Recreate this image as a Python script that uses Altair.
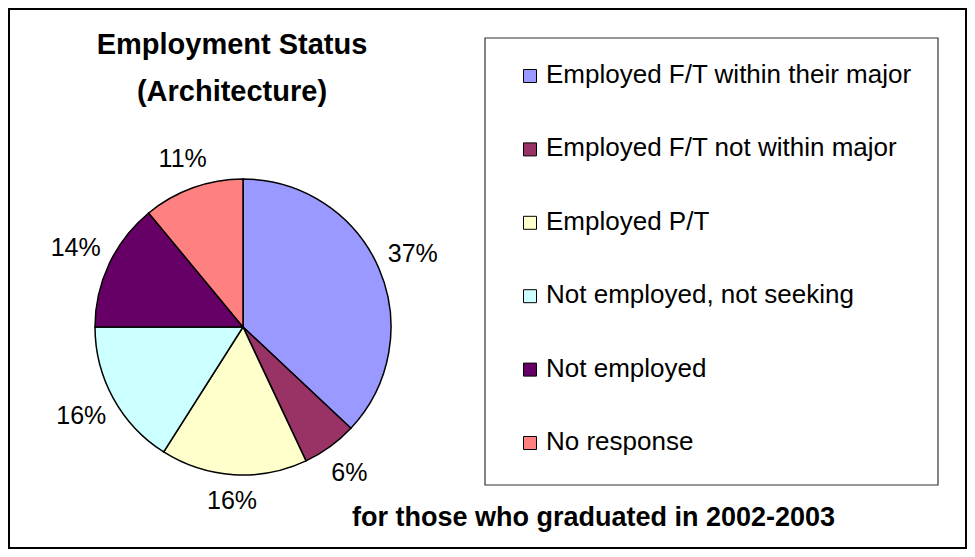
import altair as alt
import pandas as pd

# ---- data -------------------------------------------------------------
categories = [
    "Employed F/T within their major",
    "Employed F/T not within major",
    "Employed P/T",
    "Not employed, not seeking",
    "Not employed",
    "No response",
]
shares = [37, 6, 16, 16, 14, 11]
pct_labels = ["37%", "6%", "16%", "16%", "14%", "11%"]
colors = ["#9999FF", "#993366", "#FFFFCC", "#CCFFFF", "#660066", "#FF8080"]

title_lines = ["Employment Status", "(Architecture)"]
footnote = "for those who graduated in 2002-2003"

FONT = "Liberation Sans"

df = pd.DataFrame({
    "category": categories,
    "share": shares,
    "label": pct_labels,
    "idx": list(range(len(categories))),
})

# ---- layout -----------------------------------------------------------
W, H = 959, 541
CX, CY, R = 235, 319, 148

color = alt.Color("category:N", scale=alt.Scale(domain=categories, range=colors), legend=None)
theta_scale = alt.Scale(domain=[0, 100], range=[0, 6.283185307179586])
base = alt.Chart(df)

pie = base.mark_arc(outerRadius=R, stroke="black", strokeWidth=1.5).encode(
    theta=alt.Theta("share:Q", stack=True, scale=theta_scale),
    order=alt.Order("idx:Q"),
    color=color,
    x=alt.value(CX),
    y=alt.value(CY),
)

labels = base.transform_joinaggregate(
    total="sum(share)"
).transform_window(
    cum="sum(share)", sort=[alt.SortField("idx")], frame=[None, 0]
).transform_calculate(
    midv="datum.cum - datum.share / 2",
    mid="(datum.cum - datum.share / 2) / datum.total * 2 * PI",
    r="174 + 12 * abs(sin(datum.mid))",
).mark_text(font=FONT, fontSize=25, color="black").encode(
    theta=alt.Theta("midv:Q", stack=None, scale=theta_scale),
    radius=alt.Radius("r:Q", scale=None),
    text="label:N",
    x=alt.value(CX),
    y=alt.value(CY),
)

# legend box
box = alt.Chart(pd.DataFrame({"k": [0]})).mark_rect(
    fill="white", stroke="#333333", strokeWidth=1.2
).encode(x=alt.value(477), x2=alt.value(930), y=alt.value(30), y2=alt.value(477))

leg_y = alt.Y("category:N", scale=alt.Scale(domain=categories, range=[68, 435], padding=0), axis=None)

leg_sym = base.mark_square(size=169, stroke="black", strokeWidth=1, opacity=1).encode(
    y=leg_y, x=alt.value(522), color=color,
)
leg_txt = base.mark_text(font=FONT, fontSize=26, align="left", baseline="alphabetic", dy=7, color="black").encode(
    y=leg_y, x=alt.value(538), text="category:N",
)

frame = alt.Chart(pd.DataFrame({"k": [0]})).mark_rect(
    fill="white", stroke="black", strokeWidth=2
).encode(x=alt.value(1), x2=alt.value(W - 1), y=alt.value(1), y2=alt.value(H - 1))

title1 = alt.Chart(pd.DataFrame({"t": [title_lines[0]]})).mark_text(
    font=FONT, fontSize=29, fontWeight="bold", align="center", baseline="alphabetic", color="black"
).encode(text="t:N", x=alt.value(224), y=alt.value(46))
title2 = alt.Chart(pd.DataFrame({"t": [title_lines[1]]})).mark_text(
    font=FONT, fontSize=29, fontWeight="bold", align="center", baseline="alphabetic", color="black"
).encode(text="t:N", x=alt.value(224), y=alt.value(93))
foot = alt.Chart(pd.DataFrame({"t": [footnote]})).mark_text(
    font=FONT, fontSize=27, fontWeight="bold", align="left", baseline="alphabetic", color="black"
).encode(text="t:N", x=alt.value(344), y=alt.value(518))

chart = alt.layer(
    frame, box, pie, labels, leg_sym, leg_txt, title1, title2, foot
).properties(
    width=W, height=H, autosize=alt.AutoSizeParams(type="none"), padding=0, background="white"
).configure_view(stroke=None)

chart.save("out.html", embed_options={"renderer": "svg", "actions": False})
